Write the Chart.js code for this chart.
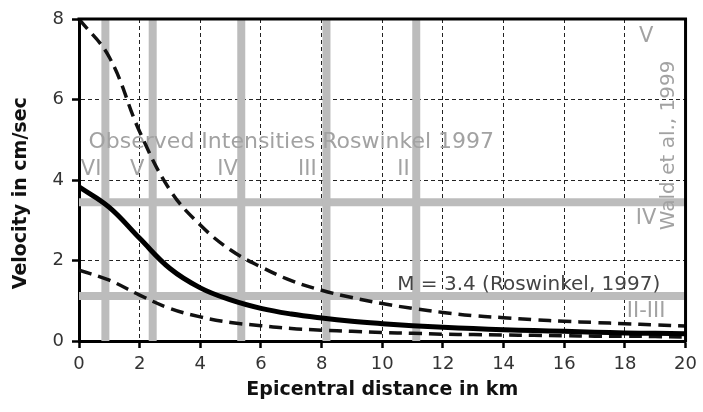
<!DOCTYPE html>
<html><head><meta charset="utf-8">
<script src="https://cdn.jsdelivr.net/npm/chart.js@4/dist/chart.umd.min.js"></script>
<style>html,body{margin:0;padding:0;background:#fff}#wrap{width:703px;height:412px;position:relative}</style>
</head><body><div id="wrap"><canvas id="c" width="703" height="412"></canvas></div>
<script>
// ---- data ----
const distances      = [0,1,2,3,4,5,6,7,8,9,10,11,12,13,14,15,16,17,18,19,20];
const velocityMean   = [3.83,3.32,2.55,1.80,1.32,1.02,0.81,0.67,0.57,0.49,0.43,0.38,0.34,0.31,0.28,0.26,0.24,0.22,0.20,0.19,0.18];
const velocityUpper  = [8.00,7.05,5.20,3.75,2.88,2.26,1.84,1.50,1.26,1.08,0.93,0.81,0.71,0.63,0.58,0.53,0.49,0.46,0.43,0.40,0.37];
const velocityLower  = [1.76,1.51,1.14,0.81,0.60,0.46,0.38,0.31,0.27,0.24,0.21,0.19,0.17,0.16,0.15,0.14,0.13,0.12,0.12,0.11,0.10];
const xTickValues    = [0,2,4,6,8,10,12,14,16,18,20];
const yTickValues    = [0,2,4,6,8];
const observedBandsKm      = [0.87,2.43,5.35,8.16,11.12];   // Roswinkel 1997 intensity boundaries
const observedIntensities  = ['VI','V','IV','III','II'];
const observedLabelKm      = [0.4,1.92,4.9,7.53,10.7];
const waldBandsVelocity    = [3.45,1.12];                   // Wald et al. 1999 boundaries
const waldIntensities      = ['V','IV','II-III'];
const waldLabelVelocity    = [7.57,3.05,0.74];

const FONT = "'DejaVu Sans', 'Liberation Sans', Arial, sans-serif";
const pts = ys => distances.map((x,i)=>({x:x,y:ys[i]}));

const curves = [
  {label:'mean', data:pts(velocityMean), borderColor:'#000', borderWidth:5, borderDash:[], order:0},
  {label:'upper', data:pts(velocityUpper), borderColor:'#111', borderWidth:3.5, borderDash:[13,7], order:0},
  {label:'lower', data:pts(velocityLower), borderColor:'#111', borderWidth:3.5, borderDash:[13,7], order:0}
].map(d=>Object.assign(d,{pointRadius:0, fill:false, tension:0.4, borderCapStyle:'butt'}));

const bands = [];
observedBandsKm.forEach(k=>bands.push({label:'obs', data:[{x:k,y:0},{x:k,y:8}]}));
waldBandsVelocity.forEach(v=>bands.push({label:'wald', data:[{x:0,y:v},{x:20,y:v}]}));
bands.forEach((b,i)=>Object.assign(b,{borderColor:'#bcbcbc', borderWidth:8, pointRadius:0, tension:0, order:1, textAfter: i===0}));

function drawLabel(ctx, text, x, y, font, color, rot){
  ctx.save();
  ctx.translate(x,y);
  if (rot) ctx.rotate(rot);
  ctx.font = font; ctx.fillStyle = color;
  ctx.textAlign = 'center'; ctx.textBaseline = 'middle';
  ctx.fillText(text,0,0);
  ctx.restore();
}

const annotations = {
  id:'annotations',
  afterDatasetDraw(chart,args){
    const ds = chart.data.datasets[args.index];
    if (!ds.textAfter) return;
    const {ctx, scales:{x,y}} = chart;
    const gray = '#a2a2a2';
    drawLabel(ctx,'Observed Intensities Roswinkel 1997', x.getPixelForValue(7.0), y.getPixelForValue(4.94), '22px '+FONT, gray);
    observedIntensities.forEach((t,i)=>drawLabel(ctx,t,x.getPixelForValue(observedLabelKm[i]),y.getPixelForValue(4.26),'21px '+FONT,gray));
    waldIntensities.forEach((t,i)=>drawLabel(ctx,t,x.getPixelForValue(18.7),y.getPixelForValue(waldLabelVelocity[i]),'21px '+FONT,gray));
    drawLabel(ctx,'Wald et al., 1999',x.getPixelForValue(19.44),y.getPixelForValue(4.86),'20px '+FONT,gray,-Math.PI/2);
    drawLabel(ctx,'M = 3.4 (Roswinkel, 1997)',x.getPixelForValue(14.83),y.getPixelForValue(1.39),'20px '+FONT,'#444');
  },
  afterDraw(chart){
    const {ctx, chartArea:a} = chart;
    ctx.save();
    ctx.strokeStyle='#000'; ctx.lineWidth=3;
    ctx.beginPath();
    ctx.moveTo(a.left-1.5,a.top); ctx.lineTo(a.right,a.top); ctx.lineTo(a.right,a.bottom+1.5);
    ctx.stroke();
    ctx.restore();
  }
};

new Chart(document.getElementById('c'),{
  type:'line',
  data:{datasets:[...curves,...bands]},
  options:{
    responsive:false, animation:false, devicePixelRatio:1,
    layout:{padding:{left:0,top:19,right:16,bottom:0}},
    plugins:{legend:{display:false}, tooltip:{enabled:false}},
    scales:{
      x:{type:'linear', min:0, max:20,
        afterBuildTicks(s){ s.ticks = xTickValues.map(v=>({value:v})); },
        afterFit(s){ s.height = 71; },
        grid:{color:'#222', lineWidth:1, drawTicks:true, tickLength:7, tickColor:'#000', tickWidth:2.5, tickBorderDash:[]},
        border:{display:true, color:'#000', width:3, dash:[4,3]},
        ticks:{color:'#333', font:{family:FONT, size:18}, padding:6, maxRotation:0},
        title:{display:true, text:'Epicentral distance in km', color:'#111', font:{family:FONT, size:19, weight:'bold'}, padding:{top:0,bottom:11}}
      },
      y:{type:'linear', min:0, max:8,
        afterBuildTicks(s){ s.ticks = yTickValues.map(v=>({value:v})); },
        afterFit(s){ s.width = 79; },
        grid:{color:'#222', lineWidth:1, drawTicks:true, tickLength:7, tickColor:'#000', tickWidth:2.5, tickBorderDash:[]},
        border:{display:true, color:'#000', width:3, dash:[4,3]},
        ticks:{color:'#333', font:{family:FONT, size:18}, padding:8},
        title:{display:true, text:'Velocity in cm/sec    ', color:'#111', font:{family:FONT, size:19, weight:'bold'}, padding:{top:10,bottom:0}}
      }
    }
  },
  plugins:[annotations]
});
</script></body></html>
